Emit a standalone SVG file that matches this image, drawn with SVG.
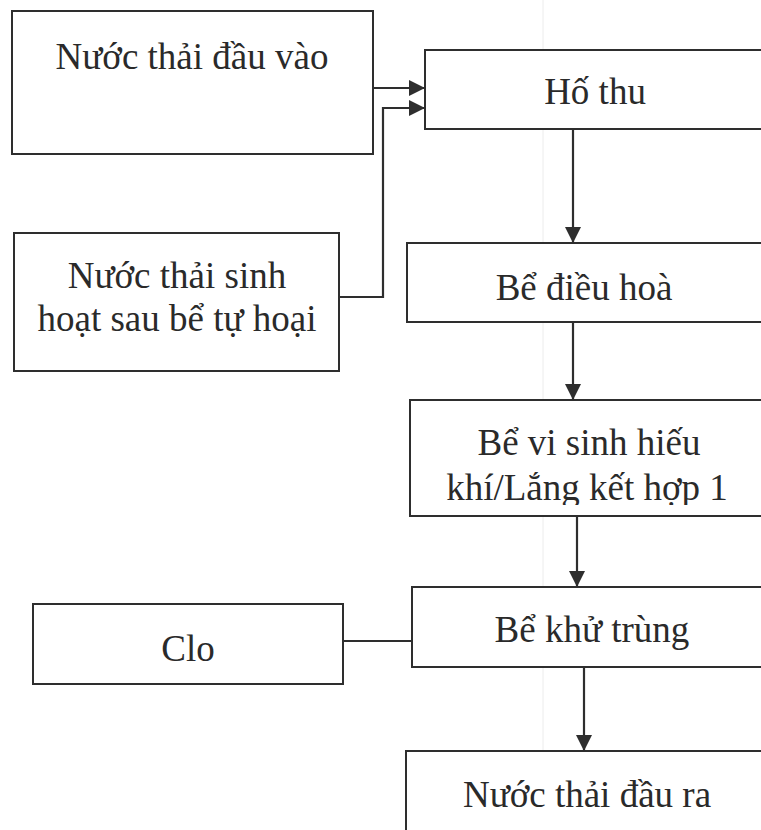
<svg xmlns="http://www.w3.org/2000/svg" width="761" height="830" viewBox="0 0 761 830">
<style>
.box{fill:#fff;stroke:#2e2e2e;stroke-width:2}
.lbl{font-family:"Liberation Serif","Times New Roman",serif;font-size:37px;fill:#2a2a2a;text-anchor:middle}
.con{fill:none;stroke:#2e2e2e;stroke-width:2.2}
</style>
<defs>
<marker id="ah" markerUnits="userSpaceOnUse" markerWidth="17" markerHeight="17" refX="16" refY="8" orient="auto">
<path d="M0,0 L16,8 L0,16 Z" fill="#2e2e2e"/>
</marker>
<clipPath id="clipVS"><rect x="410" y="400" width="380" height="105"/></clipPath>
</defs>
<rect width="761" height="830" fill="#fff"/>
<line x1="543" y1="0" x2="543" y2="830" stroke="#ececec" stroke-width="1"/>
<g id="n-dauvao"><rect class="box" x="12" y="11" width="361" height="143"/><text class="lbl" x="192" y="69">Nước thải đầu vào</text></g>
<g id="n-sinhhoat"><rect class="box" x="14" y="233" width="325" height="138"/><text class="lbl" x="177" y="288">Nước thải sinh</text><text class="lbl" x="177" y="331">hoạt sau bể tự hoại</text></g>
<g id="n-hothu"><rect class="box" x="425" y="50" width="360" height="79"/><text class="lbl" x="595" y="104">Hố thu</text></g>
<g id="n-dieuhoa"><rect class="box" x="407" y="243" width="380" height="79"/><text class="lbl" x="584" y="300">Bể điều hoà</text></g>
<g id="n-visinh"><rect class="box" x="410" y="400" width="380" height="116"/><g clip-path="url(#clipVS)"><text class="lbl" x="589" y="455">Bể vi sinh hiếu</text><text class="lbl" x="587" y="500">khí/Lắng kết hợp 1</text></g></g>
<g id="n-khutrung"><rect class="box" x="412" y="587" width="380" height="80"/><text class="lbl" x="592" y="642">Bể khử trùng</text></g>
<g id="n-clo"><rect class="box" x="33" y="604" width="310" height="80"/><text class="lbl" x="188" y="661">Clo</text></g>
<g id="n-daura"><rect class="box" x="406" y="751" width="380" height="100"/><text class="lbl" x="587" y="807">Nước thải đầu ra</text></g>
<g id="connectors">
<line class="con" x1="373" y1="88" x2="425" y2="88" marker-end="url(#ah)"/>
<polyline class="con" points="339,297 383,297 383,108 425,108" marker-end="url(#ah)"/>
<line class="con" x1="573" y1="129" x2="573" y2="243" marker-end="url(#ah)"/>
<line class="con" x1="573" y1="322" x2="573" y2="400" marker-end="url(#ah)"/>
<line class="con" x1="577" y1="516" x2="577" y2="587" marker-end="url(#ah)"/>
<line class="con" x1="343" y1="641" x2="412" y2="641"/>
<line class="con" x1="584" y1="667" x2="584" y2="751" marker-end="url(#ah)"/>
</g>
</svg>
